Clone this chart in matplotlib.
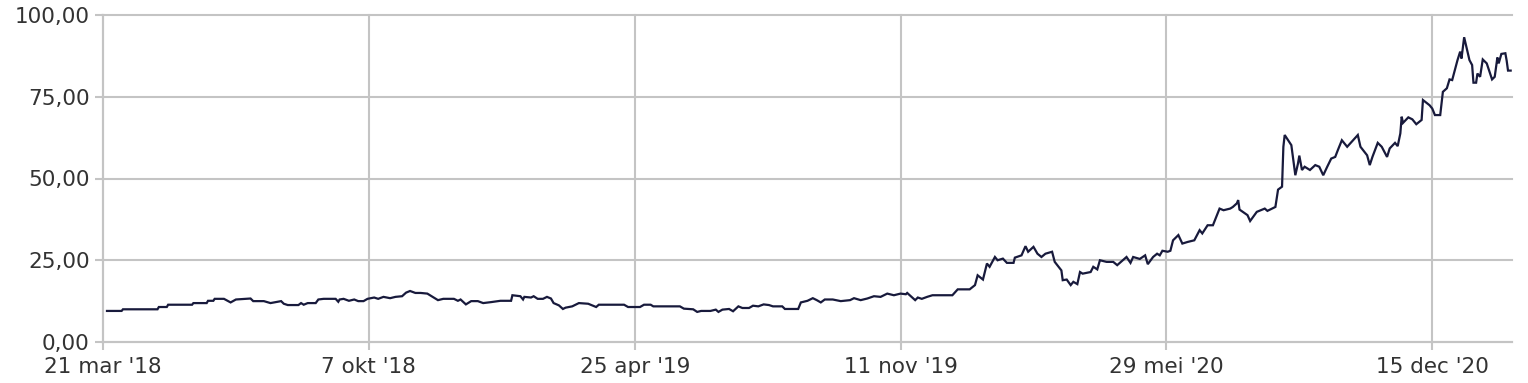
import matplotlib
matplotlib.use("Agg")
import matplotlib.pyplot as plt
import pandas as pd

# ---- data ----
start_date = "2018-03-21"
x_end_days = 1060

days_a = [3, 14, 15, 41, 42, 48, 49, 67, 68, 78, 79, 83, 84, 91, 96, 100, 111, 113, 121, 126,
          134, 136, 139, 147, 149, 151, 154, 160, 162, 166, 175, 177, 178, 181, 185, 189, 192,
          196, 199, 204, 207, 211, 216, 220, 225, 228, 231, 235, 239, 244, 252, 256, 264, 267,
          269, 273, 277, 282, 286, 292, 299, 307]
vals_a = [9.5, 9.5, 10.0, 10.0, 10.7, 10.7, 11.4, 11.4, 11.9, 11.9, 12.6, 12.6, 13.2, 13.2,
          12.1, 13.0, 13.3, 12.5, 12.5, 11.9, 12.5, 11.7, 11.3, 11.3, 11.9, 11.4, 11.9, 11.9,
          13.0, 13.2, 13.2, 12.3, 13.0, 13.2, 12.6, 13.0, 12.5, 12.5, 13.2, 13.6, 13.2, 13.8,
          13.4, 13.8, 14.0, 15.1, 15.6, 15.0, 15.0, 14.8, 12.8, 13.2, 13.2, 12.6, 13.0, 11.5,
          12.5, 12.5, 11.9, 12.2, 12.6, 12.6]

days_b = [308, 314, 316, 317, 322, 324, 327, 331, 334, 337, 339, 343, 346, 348, 353, 358, 365,
          371, 373, 392, 395, 404, 407, 412, 414, 434, 437, 444, 447, 450, 457, 461, 463, 466,
          471, 474, 478, 481, 486, 489, 493, 497, 501, 504, 511, 513, 523, 525, 530, 534, 537,
          540, 543, 549, 555, 562, 565, 570, 575, 580, 585, 590, 595, 600, 604]
vals_b = [14.3, 14.0, 13.0, 13.8, 13.6, 14.0, 13.2, 13.2, 13.8, 13.3, 11.9, 11.2, 10.1, 10.5,
          10.9, 11.9, 11.7, 10.7, 11.4, 11.4, 10.7, 10.7, 11.4, 11.4, 10.9, 10.9, 10.2, 10.0,
          9.2, 9.5, 9.5, 9.9, 9.2, 9.9, 10.1, 9.4, 10.9, 10.4, 10.4, 11.1, 10.9, 11.5, 11.3,
          10.9, 10.9, 10.1, 10.1, 12.1, 12.6, 13.4, 12.8, 12.1, 13.0, 13.0, 12.5, 12.8, 13.4,
          12.8, 13.3, 14.0, 13.8, 14.8, 14.3, 14.8, 14.6]

days_c = [605, 611, 613, 616, 620, 624, 639, 643, 652, 656, 658, 662, 665, 667, 671, 673, 677,
          680, 685, 686, 691, 694, 696, 700, 703, 706, 709, 714, 716, 721, 722, 725, 728, 730,
          733, 735, 737, 743, 745, 748, 750, 755, 760, 763, 770, 773, 775, 780, 784, 786, 790,
          793, 795, 797, 801, 803, 805, 809, 812, 816, 821]
vals_c = [15.0, 12.8, 13.6, 13.2, 13.8, 14.3, 14.3, 16.1, 16.1, 17.4, 20.4, 19.1, 24.0, 23.0,
          26.0, 25.0, 25.5, 24.2, 24.2, 25.8, 26.5, 29.3, 27.6, 29.1, 27.0, 26.0, 27.0, 27.6,
          24.5, 21.9, 18.9, 19.1, 17.4, 18.4, 17.7, 21.4, 20.9, 21.4, 23.0, 22.2, 25.0, 24.5,
          24.5, 23.5, 26.0, 24.2, 26.0, 25.4, 26.5, 23.8, 26.0, 27.0, 26.5, 27.9, 27.6, 27.9,
          31.1, 32.7, 30.1, 30.6, 31.1]

days_d = [825, 827, 831, 835, 838, 840, 843, 848, 850, 853, 854, 855, 861, 863, 868, 874, 876,
          882, 884, 887, 888, 889, 894, 897, 899, 900, 902, 904, 908, 912, 915, 918, 921, 924,
          927, 929, 932, 936]
vals_d = [34.2, 33.2, 35.7, 35.7, 38.8, 40.8, 40.3, 40.8, 41.3, 42.4, 43.4, 40.5, 38.8, 37.0,
          39.8, 40.8, 40.1, 41.3, 46.6, 47.5, 59.7, 63.3, 60.2, 51.0, 54.6, 57.0, 52.6, 53.6,
          52.6, 54.1, 53.6, 51.0, 53.6, 56.1, 56.6, 58.7, 61.7, 59.7]

days_e = [944, 946, 951, 953, 955, 959, 962, 966, 968, 972, 974, 976, 977, 978, 982, 985, 988,
          992, 993, 998, 1000, 1002, 1006, 1008, 1011, 1013, 1015, 1019, 1021, 1022, 1024, 1028,
          1030, 1031, 1033, 1034, 1036, 1038, 1041, 1045, 1047, 1049, 1050, 1052, 1055, 1056,
          1057, 1059]
vals_e = [63.3, 59.7, 57.1, 54.1, 56.6, 60.9, 59.7, 56.6, 59.2, 60.9, 59.9, 63.8, 68.9, 67.0,
          68.7, 68.1, 66.6, 67.9, 74.0, 72.4, 71.4, 69.4, 69.4, 76.5, 77.6, 80.3, 80.1, 86.2,
          88.8, 86.7, 93.2, 86.2, 84.7, 79.3, 79.3, 82.1, 81.1, 86.4, 85.2, 80.3, 81.1, 87.0,
          85.2, 88.1, 88.3, 86.0, 83.0, 83.0]

xtick_days = [0, 200, 400, 600, 800, 1000]
xtick_labels = ["21 mar '18", "7 okt '18", "25 apr '19", "11 nov '19", "29 mei '20", "15 dec '20"]
ytick_values = [0, 25, 50, 75, 100]
ytick_labels = ["0,00", "25,00", "50,00", "75,00", "100,00"]

# ---- build ----
t0 = pd.Timestamp(start_date)
all_days = days_a + days_b + days_c + days_d + days_e
all_vals = vals_a + vals_b + vals_c + vals_d + vals_e
dates = [t0 + pd.Timedelta(days=d) for d in all_days]

W, H = 1528, 383
fig = plt.figure(figsize=(W / 100, H / 100), dpi=100)
L, R, T, B = 103, 1512, 15, 342
ax = fig.add_axes([L / W, (H - B) / H, (R - L) / W, (B - T) / H])

grid_c = "#c4c4c4"
ax.plot(dates, all_vals, color="#181a3c", lw=1.6, zorder=3, solid_joinstyle="miter")

ax.set_xlim(t0, t0 + pd.Timedelta(days=x_end_days))
ax.set_ylim(0, 100)
ax.set_xticks([t0 + pd.Timedelta(days=d) for d in xtick_days])
ax.set_xticklabels(xtick_labels)
ax.set_yticks(ytick_values)
ax.set_yticklabels(ytick_labels)

ax.grid(True, color=grid_c, lw=1.5)
for gl in ax.get_xgridlines() + ax.get_ygridlines():
    gl.set_clip_on(False)
ax.set_axisbelow(True)

for s in ["top", "right"]:
    ax.spines[s].set_visible(False)
for s in ["left", "bottom"]:
    ax.spines[s].set_color(grid_c)
    ax.spines[s].set_linewidth(1.5)

ax.tick_params(axis="both", colors=grid_c, length=6, width=1.5, labelcolor="#333333",
               labelsize=15.5)
ax.tick_params(axis="x", pad=4.5)
ax.tick_params(axis="y", pad=3.5)

fig.savefig("out.png", dpi=100)
